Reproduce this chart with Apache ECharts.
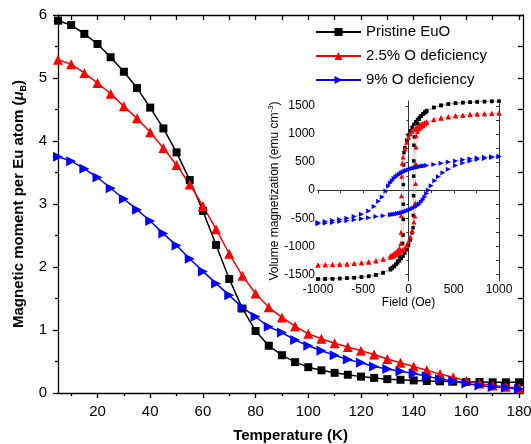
<!DOCTYPE html>
<html><head><meta charset="utf-8">
<script src="https://cdn.jsdelivr.net/npm/echarts@6/dist/echarts.min.js"></script>
<style>html,body{margin:0;padding:0;background:#fff}#c{width:531px;height:444px}</style>
</head><body><div id="c"></div>
<script>
// ---- main chart data ----
const temps = [5,10,15,20,25,30,35,40,45,50,55,60,65,70,75,80,85,90,95,100,105,110,115,120,125,130,135,140,145,150,155,160,165,170,175,180];
const pristine = [5.91,5.84,5.70,5.54,5.33,5.10,4.84,4.53,4.20,3.82,3.38,2.89,2.35,1.81,1.34,0.985,0.75,0.60,0.49,0.41,0.36,0.32,0.29,0.26,0.24,0.22,0.21,0.20,0.19,0.186,0.18,0.175,0.175,0.17,0.17,0.17];
const def25 = [5.29,5.22,5.08,4.92,4.75,4.55,4.36,4.14,3.89,3.62,3.31,2.97,2.60,2.21,1.86,1.58,1.36,1.20,1.06,0.94,0.86,0.79,0.73,0.67,0.61,0.54,0.48,0.42,0.36,0.30,0.25,0.19,0.15,0.12,0.10,0.08];
const def9 = [3.75,3.68,3.56,3.42,3.25,3.08,2.91,2.73,2.53,2.34,2.13,1.93,1.74,1.55,1.36,1.21,1.05,0.96,0.84,0.75,0.67,0.60,0.53,0.48,0.42,0.38,0.345,0.31,0.265,0.22,0.19,0.15,0.12,0.095,0.085,0.065];
const seriesNames = ['Pristine EuO','2.5% O deficiency','9% O deficiency'];
const xLabelTicks = [20,40,60,80,100,120,140,160,180];
const xMinorTicks = [10,30,50,70,90,110,130,150,170];
const xTopTicks = [10,20,30,40,50,60,70,80,90,100,110,120,130,140,150,160,170,180];

// ---- inset data: [field (Oe), magnetization (emu cm^-3)] ----
const blackDown = [[1000,1585],[920,1583],[840,1580],[760,1575],[680,1568],[600,1560],[520,1549],[440,1532],[360,1508],[280,1470],[200,1400],
[180,1378],[160,1353],[140,1326],[120,1295],[100,1260],[80,1220],[60,1175],[40,1122],[20,1060],[0,985],[-20,890],[-40,760],[-50,670],
[-54,450],[-56,100],[-57,-250],[-58,-520],[-60,-800],[-65,-950],
[-80,-1080],[-100,-1190],[-120,-1265],[-140,-1322],[-160,-1365],[-180,-1396],[-200,-1420],
[-280,-1478],[-360,-1515],[-440,-1538],[-520,-1551],[-600,-1562],[-680,-1570],[-760,-1576],[-840,-1580],[-920,-1583],[-1000,-1585]];
const blackUp = [[-1000,-1585],[-920,-1583],[-840,-1580],[-760,-1575],[-680,-1568],[-600,-1560],[-520,-1549],[-440,-1532],[-360,-1508],[-280,-1470],[-200,-1400],
[-180,-1378],[-160,-1353],[-140,-1326],[-120,-1295],[-100,-1260],[-80,-1220],[-60,-1175],[-40,-1122],[-20,-1060],[0,-985],[20,-890],[40,-760],[50,-670],
[54,-450],[56,-100],[57,250],[58,520],[60,800],[65,950],
[80,1080],[100,1190],[120,1265],[140,1322],[160,1365],[180,1396],[200,1420],
[280,1478],[360,1515],[440,1538],[520,1551],[600,1562],[680,1570],[760,1576],[840,1580],[920,1583],[1000,1585]];
const redDown = [[1000,1375],[920,1368],[840,1362],[760,1356],[680,1348],[600,1338],[520,1325],[440,1308],[360,1285],[280,1258],[200,1222],
[180,1208],[160,1193],[140,1178],[120,1160],[100,1140],[80,1115],[60,1085],[40,1050],[20,1005],[0,940],[-20,855],[-40,740],[-60,590],[-70,480],
[-76,250],[-78,-100],[-80,-450],[-82,-750],[-85,-950],
[-100,-1030],[-120,-1075],[-140,-1105],[-160,-1130],[-180,-1150],[-200,-1170],
[-280,-1225],[-360,-1258],[-440,-1280],[-520,-1295],[-600,-1306],[-680,-1315],[-760,-1321],[-840,-1326],[-920,-1330],[-1000,-1333]];
const redUp = [[-1000,-1333],[-920,-1330],[-840,-1326],[-760,-1321],[-680,-1315],[-600,-1306],[-520,-1295],[-440,-1280],[-360,-1258],[-280,-1230],[-200,-1195],
[-180,-1182],[-160,-1168],[-140,-1152],[-120,-1135],[-100,-1115],[-80,-1090],[-60,-1060],[-40,-1025],[-20,-980],[0,-915],[20,-830],[40,-720],[60,-570],[70,-460],
[76,-230],[78,120],[80,470],[82,770],[85,970],
[100,1050],[120,1095],[140,1128],[160,1155],[180,1180],[200,1200],
[280,1255],[360,1288],[440,1310],[520,1326],[600,1338],[680,1348],[760,1356],[840,1362],[920,1368],[1000,1375]];
const blueDown = [[1000,605],[920,595],[840,585],[760,572],[680,558],[600,542],[520,522],[440,500],[360,478],[280,458],[200,440],
[180,435],[160,430],[140,425],[120,419],[100,412],[80,404],[60,395],[40,386],[20,376],[0,365],[-20,352],[-40,338],[-60,322],[-80,304],[-100,284],[-120,262],[-140,236],[-160,206],[-180,170],[-200,128],[-220,75],
[-250,-15],[-290,-120],[-330,-200],[-380,-290],[-440,-370],[-520,-430],[-600,-470],[-680,-500],[-760,-522],[-840,-542],[-920,-560],[-1000,-578]];
const blueUp = [[-1000,-600],[-920,-588],[-840,-575],[-760,-560],[-680,-545],[-600,-528],[-520,-510],[-440,-490],[-360,-470],[-280,-455],[-200,-440],
[-180,-435],[-160,-430],[-140,-425],[-120,-418],[-100,-410],[-80,-402],[-60,-393],[-40,-383],[-20,-372],[0,-360],[20,-347],[40,-332],[60,-315],[80,-296],[100,-272],[120,-245],[140,-212],[160,-170],[180,-120],[200,-60],[220,0],
[250,80],[290,170],[330,240],[380,310],[440,375],[520,440],[600,485],[680,520],[760,545],[840,565],[920,582],[1000,598]];
const insetLabelTicks = [-1500,-1000,-500,0,500,1000,1500];
const insetMinorTicks = [-1250,-750,-250,250,750,1250];
const insetAllTicks = [-1500,-1250,-1000,-750,-500,-250,0,250,500,750,1000,1250,1500];

const FONT = 'Liberation Sans, Arial, sans-serif';
const AX = {lineStyle:{color:'#000',width:1.3}};
const plain = v => String(v);

const chart = echarts.init(document.getElementById('c'), null, {renderer:'canvas'});

const pair = (xs, ys) => xs.map((x,i)=>[x, ys[i]]);

const option = {
  animation:false,
  backgroundColor:'#fff',
  textStyle:{fontFamily:FONT},
  legend:{
    data: seriesNames, orient:'vertical', left:315, top:24, padding:0,
    itemWidth:45, itemHeight:10, itemGap:8,
    textStyle:{fontFamily:FONT, fontSize:15, color:'#000', lineHeight:16}
  },
  grid:[
    {left:58, right:8, top:15, bottom:51, outerBoundsMode:'none', containLabel:false},
    {left:318, right:32, top:101, bottom:163, outerBoundsMode:'none', containLabel:false}
  ],
  xAxis:[
    {gridIndex:0, type:'value', min:5, max:181.5, position:'bottom',
     name:'Temperature (K)', nameLocation:'middle', nameGap:35,
     nameTextStyle:{fontFamily:FONT, fontSize:15, fontWeight:'bold', color:'#000'},
     axisLine:{show:true, ...AX}, splitLine:{show:false},
     axisTick:{show:true, inside:false, length:5, customValues:xLabelTicks, lineStyle:{color:'#000',width:1.3}},
     axisLabel:{customValues:xLabelTicks, formatter:plain, fontFamily:FONT, fontSize:15, color:'#000', margin:11}},
    {gridIndex:0, type:'value', min:5, max:181.5, position:'bottom',
     axisLine:{show:false}, splitLine:{show:false}, axisLabel:{show:false},
     axisTick:{show:true, inside:false, length:3, customValues:xMinorTicks, lineStyle:{color:'#000',width:1.3}}},
    {gridIndex:0, type:'value', min:5, max:181.5, position:'top',
     axisLine:{show:true, ...AX}, splitLine:{show:false}, axisLabel:{show:false},
     axisTick:{show:true, inside:true, length:5, customValues:xTopTicks, lineStyle:{color:'#000',width:1.3}}},
    {gridIndex:1, type:'value', min:-1000, max:1000, interval:500, position:'bottom',
     name:'Field (Oe)', nameLocation:'middle', nameGap:15,
     nameTextStyle:{fontFamily:FONT, fontSize:12, color:'#000'},
     axisLine:{show:true, lineStyle:{color:'#333',width:1}}, splitLine:{show:false},
     axisTick:{show:true, inside:false, length:3, lineStyle:{color:'#333'}},
     minorTick:{show:true, splitNumber:2, length:2, lineStyle:{color:'#333'}},
     axisLabel:{formatter:plain, fontFamily:FONT, fontSize:12, color:'#000', margin:3}},
    {gridIndex:1, type:'value', min:-1000, max:1000, interval:250, position:'top',
     axisLine:{show:true, lineStyle:{color:'#333',width:1}}, splitLine:{show:false}, axisLabel:{show:false},
     axisTick:{show:true, inside:true, length:3, lineStyle:{color:'#333'}}}
  ],
  yAxis:[
    {gridIndex:0, type:'value', min:0, max:6, interval:1, position:'left',
     name:'{b|Magnetic moment per Eu atom (}{mu|μ}{sub|B}{b|)}', nameLocation:'middle', nameGap:29,
     nameTextStyle:{fontFamily:FONT, color:'#000', rich:{
       b:{fontFamily:FONT, fontSize:15, fontWeight:'bold', color:'#000'},
       mu:{fontFamily:FONT, fontSize:15, fontWeight:'bold', fontStyle:'italic', color:'#000'},
       sub:{fontFamily:FONT, fontSize:9, fontWeight:'bold', color:'#000', padding:[9,0,0,0]}
     }},
     axisLine:{show:true, ...AX}, splitLine:{show:false},
     axisTick:{show:true, inside:false, length:5, lineStyle:{color:'#000',width:1.3}},
     minorTick:{show:true, splitNumber:2, length:3, lineStyle:{color:'#000',width:1.3}},
     axisLabel:{formatter:plain, fontFamily:FONT, fontSize:15, color:'#000', margin:11}},
    {gridIndex:0, type:'value', min:0, max:6, interval:0.5, position:'right',
     axisLine:{show:true, ...AX}, splitLine:{show:false}, axisLabel:{show:false},
     axisTick:{show:true, inside:true, length:5, lineStyle:{color:'#000',width:1.3}}},
    {gridIndex:1, type:'value', min:-1620, max:1590, position:'left',
     name:'{a|Volume magnetization (emu cm}{sup|-3}{a|)}', nameLocation:'middle', nameGap:34,
     nameTextStyle:{fontFamily:FONT, color:'#000', rich:{
       a:{fontFamily:FONT, fontSize:12, color:'#000'},
       sup:{fontFamily:FONT, fontSize:8, color:'#000', padding:[0,0,7,0]}
     }},
     axisLine:{show:true, lineStyle:{color:'#333',width:1}}, splitLine:{show:false},
     axisTick:{show:true, inside:false, length:3, customValues:insetLabelTicks, lineStyle:{color:'#333'}},
     axisLabel:{customValues:insetLabelTicks, formatter:plain, fontFamily:FONT, fontSize:12, color:'#000', margin:3}},
    {gridIndex:1, type:'value', min:-1620, max:1590, position:'left',
     axisLine:{show:false}, splitLine:{show:false}, axisLabel:{show:false},
     axisTick:{show:true, inside:false, length:2, customValues:insetMinorTicks, lineStyle:{color:'#333'}}},
    {gridIndex:1, type:'value', min:-1620, max:1590, position:'right',
     axisLine:{show:true, lineStyle:{color:'#333',width:1}}, splitLine:{show:false}, axisLabel:{show:false},
     axisTick:{show:true, inside:true, length:3, customValues:insetAllTicks, lineStyle:{color:'#333'}}}
  ],
  series:[
    {name:seriesNames[0], type:'line', xAxisIndex:0, yAxisIndex:0, data:pair(temps,pristine),
     symbol:'rect', symbolSize:8, lineStyle:{color:'#000',width:1.5}, itemStyle:{color:'#000'}, z:3},
    {name:seriesNames[1], type:'line', xAxisIndex:0, yAxisIndex:0, data:pair(temps,def25),
     symbol:'triangle', symbolSize:10, lineStyle:{color:'#f00',width:1.5}, itemStyle:{color:'#f00'}, z:3},
    {name:seriesNames[2], type:'line', xAxisIndex:0, yAxisIndex:0, data:pair(temps,def9),
     symbol:'triangle', symbolRotate:-90, symbolSize:10, lineStyle:{color:'#00f',width:1.5}, itemStyle:{color:'#00f'}, z:3},
    {name:'bd', type:'line', xAxisIndex:3, yAxisIndex:2, data:blackDown, symbol:'rect', symbolSize:3.5,
     lineStyle:{color:'#999',width:0.6}, itemStyle:{color:'#000'}, z:4},
    {name:'bu', type:'line', xAxisIndex:3, yAxisIndex:2, data:blackUp, symbol:'rect', symbolSize:3.5,
     lineStyle:{color:'#999',width:0.6}, itemStyle:{color:'#000'}, z:4},
    {name:'rd', type:'line', xAxisIndex:3, yAxisIndex:2, data:redDown, symbol:'triangle', symbolSize:5,
     lineStyle:{color:'#f99',width:0.6}, itemStyle:{color:'#f00'}, z:4},
    {name:'ru', type:'line', xAxisIndex:3, yAxisIndex:2, data:redUp, symbol:'triangle', symbolSize:5,
     lineStyle:{color:'#f99',width:0.6}, itemStyle:{color:'#f00'}, z:4},
    {name:'ld', type:'line', xAxisIndex:3, yAxisIndex:2, data:blueDown, symbol:'triangle', symbolRotate:-90, symbolSize:5,
     lineStyle:{color:'#99f',width:0.6}, itemStyle:{color:'#00f'}, z:4},
    {name:'lu', type:'line', xAxisIndex:3, yAxisIndex:2, data:blueUp, symbol:'triangle', symbolRotate:-90, symbolSize:5,
     lineStyle:{color:'#99f',width:0.6}, itemStyle:{color:'#00f'}, z:4}
  ]
};
chart.setOption(option);
</script>
</body></html>
